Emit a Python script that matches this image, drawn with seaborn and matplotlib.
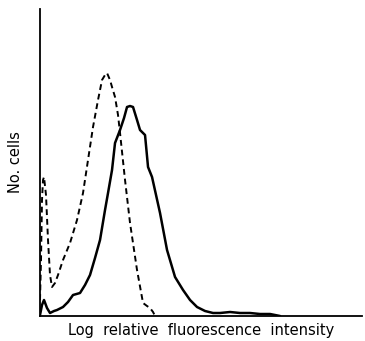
import matplotlib
matplotlib.use("Agg")
import matplotlib.pyplot as plt
import seaborn as sns
import pandas as pd

# channel (log fluorescence) and cell counts
control_channel = [0, 1, 2, 3, 4, 6, 8, 10, 12, 15, 18, 23, 30, 37, 43, 48, 53, 58,
                   62, 65, 67, 70, 72, 75, 78, 80, 85, 90, 97, 103, 107, 110, 113, 115]
control_cells = [16, 56, 116, 136, 139, 121, 76, 41, 29, 33, 41, 56, 73, 96, 123, 156,
                 189, 216, 236, 241, 243, 236, 229, 219, 201, 183, 136, 93, 46, 13, 10,
                 8, 4, 0]

treated_channel = [0, 2, 4, 7, 10, 14, 17, 23, 28, 33, 40, 45, 50, 55, 60, 65, 68, 72,
                   75, 80, 84, 87, 90, 93, 97, 100, 105, 108, 112, 116, 120, 127, 135,
                   143, 150, 157, 165, 173, 180, 190, 200, 210, 220, 230, 240]
treated_cells = [1, 11, 16, 8, 3, 5, 6, 9, 14, 21, 23, 31, 41, 58, 76, 106, 123, 146,
                 173, 186, 198, 209, 210, 209, 196, 186, 181, 149, 139, 121, 103, 66,
                 39, 26, 16, 9, 5, 3, 3, 4, 3, 3, 2, 2, 0]

control = pd.DataFrame({"channel": control_channel, "cells": control_cells})
treated = pd.DataFrame({"channel": treated_channel, "cells": treated_cells})

sns.set_style("white")
fig = plt.figure(figsize=(3.65, 3.41), dpi=100)
ax = fig.add_axes([0.1096, 0.0733, 0.8824, 0.9003])

sns.lineplot(data=control, x="channel", y="cells", ax=ax, color="black",
             linewidth=1.4, linestyle=(0, (3, 2)))
sns.lineplot(data=treated, x="channel", y="cells", ax=ax, color="black",
             linewidth=1.8)

ax.set_xlim(0, 322)
ax.set_ylim(0, 307)
ax.set_xticks([])
ax.set_yticks([])
ax.set_xlabel("Log  relative  fluorescence  intensity", fontsize=10.5,
              labelpad=5, color="black")
ax.set_ylabel("No. cells", fontsize=10.5, labelpad=12, color="black")
for side in ["top", "right"]:
    ax.spines[side].set_visible(False)
for side in ["left", "bottom"]:
    ax.spines[side].set_color("black")
    ax.spines[side].set_linewidth(1.3)

fig.savefig("out.png", dpi=100)
